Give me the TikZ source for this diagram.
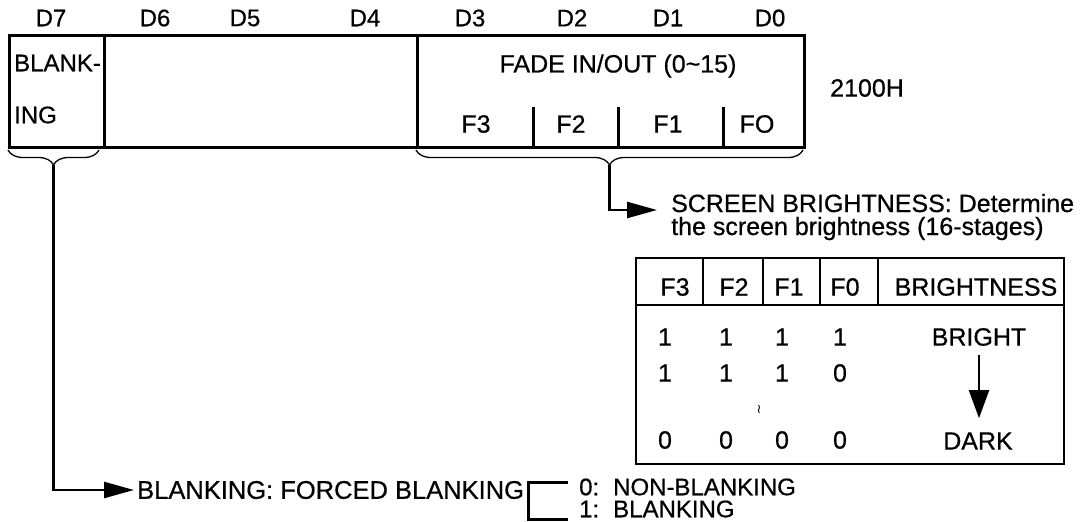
\documentclass[tikz,border=0pt]{standalone}
\usepackage{fontspec}
\setmainfont{Liberation Sans}[FakeBold=0.6]
\newfontfamily\dejavu{DejaVu Sans}
\usetikzlibrary{arrows.meta,decorations.pathreplacing}
\begin{document}
\begin{tikzpicture}[x=1pt,y=-1pt,
  lbl/.style={inner sep=0pt, font=\fontsize{24}{24}\selectfont},
  txt/.style={inner sep=0pt, font=\fontsize{25}{19}\selectfont},
  reg/.style={draw, line width=3pt, inner sep=0pt, anchor=north west, minimum height=112pt},
  tbl/.style={draw, line width=2pt},
  conn/.style={line width=2.5pt, -{Triangle[length=30pt,width=16pt]}},
  brc/.style={decorate, decoration={brace,mirror,amplitude=15pt}, line width=1.3pt}
]
\useasboundingbox (0,0) rectangle (1080,522);

% register 2100H
\node[reg, minimum width=95pt] (c7) at (8,34) {};
\node[reg, minimum width=313pt] (c64) at (103,34) {};
\node[reg, minimum width=387pt] (c30) at (416,34) {};
\draw[line width=3pt] (533,107) -- (533,146);
\draw[line width=3pt] (618,107) -- (618,146);
\draw[line width=3pt] (723,107) -- (723,146);

\foreach \n/\x in {D7/51,D6/155,D5/245,D4/365,D3/470,D2/572,D1/668,D0/770}
  \node[lbl] (l\n) at (\x,18) {\n};

\node[lbl, anchor=west] (blank1) at (14,63) {BLANK-};
\node[lbl, anchor=west] (blank2) at (14,115) {ING};
\node[txt] (fade) at (618,66) {FADE IN/OUT (0\textasciitilde15)};
\node[txt] (f3) at (476,124) {F3};
\node[txt] (f2) at (571,124) {F2};
\node[txt] (f1) at (668,124) {F1};
\node[txt] (f0) at (757,124) {FO};
\node[txt, anchor=west] (addr) at (830,88) {2100H};

% braces
\draw[brc] (8,150) -- (99,150);
\draw[brc] (416,150) -- (803,150);
\coordinate (t7) at (53.5,165);
\coordinate (t30) at (609.5,165);

% screen brightness
\coordinate (sin) at (657,210);
\node[txt, anchor=base west] (screen) at (671,212) {SCREEN BRIGHTNESS: Determine};
\node[txt, anchor=base west] (screen2) at (671,235) {the screen brightness (16-stages)};
\draw[conn] (t30) |- (sin);

% table
\node[tbl, anchor=north west, minimum width=428pt, minimum height=206pt, inner sep=0pt] (table) at (635,257) {};
\draw[tbl] (635,305) -- (1063,305);
\foreach \x in {703,763,820,878} \draw[tbl] (\x,257) -- (\x,305);
\node[txt] (h3) at (675,287) {F3};
\node[txt] (h2) at (734,287) {F2};
\node[txt] (h1) at (789,287) {F1};
\node[txt] (h0) at (845,287) {F0};
\node[txt] (hb) at (976,287) {BRIGHTNESS};
\foreach \v/\x [count=\i] in {1/665,1/726,1/782,1/840}
  \node[txt] (ra\i) at (\x,337) {\v};
\foreach \v/\x [count=\i] in {1/665,1/726,1/782,0/840}
  \node[txt] (rb\i) at (\x,373) {\v};
\foreach \v/\x [count=\i] in {0/665,0/726,0/782,0/840}
  \node[txt] (rc\i) at (\x,440) {\v};
\node[inner sep=0pt, font=\dejavu\fontsize{13}{13}\selectfont] (wave) at (759,409) {≀};
\node[txt] (bright) at (979,337) {BRIGHT};
\node[txt] (dark) at (978,441) {DARK};
\draw[line width=2pt, -{Triangle[length=28pt,width=20pt]}, shorten <=9pt, shorten >=14pt]
  (bright.south) -- (bright.south |- dark.north);

% blanking
\node[txt, anchor=west, font=\fontsize{25.5}{25.5}\selectfont] (blanking) at (137,490) {BLANKING: FORCED BLANKING};
\draw[conn, shorten >=3pt] (t7) |- (blanking.west);
\node[lbl, anchor=west] (z0) at (579,487) {0:};
\node[lbl, anchor=west] (z1) at (579,509) {1:};
\node[lbl, anchor=west] (nb) at (613,487) {NON-BLANKING};
\node[lbl, anchor=west] (bl) at (613,509) {BLANKING};
\draw[line width=3pt] (568,482) -- (528,482) -- (528,519) -- (568,519);
\end{tikzpicture}
\end{document}
